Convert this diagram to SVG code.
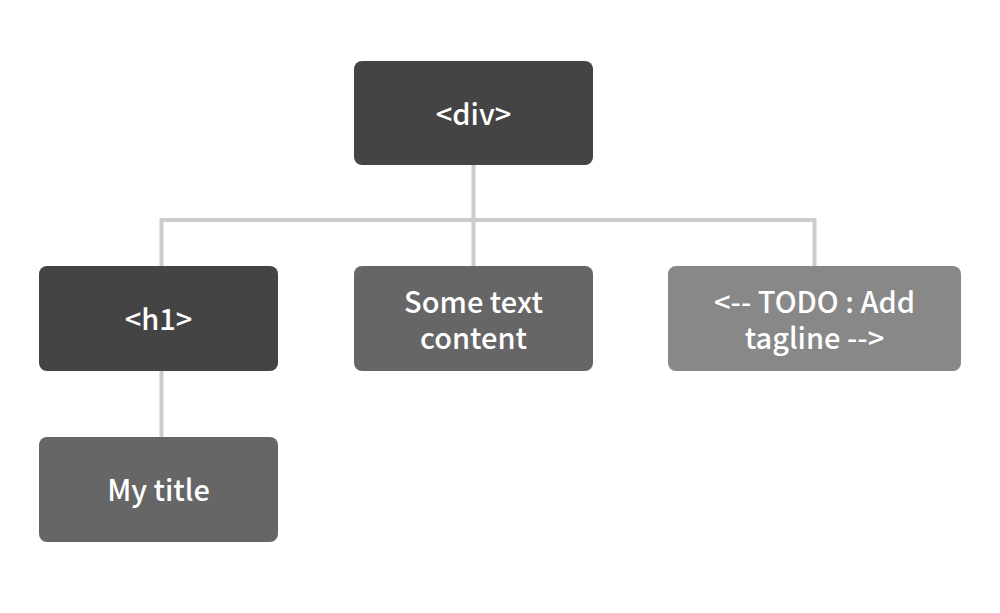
<svg xmlns="http://www.w3.org/2000/svg" width="1000" height="613" viewBox="0 0 1000 613">
<style>
.n rect{rx:8;ry:8}
.d{fill:#444444}
.m{fill:#666666}
.l{fill:#888888}
text{font-family:"Noto Sans CJK KR","Noto Sans",sans-serif;font-size:29px;font-weight:500;fill:#ffffff;text-anchor:middle;dominant-baseline:central}
.c{fill:none;stroke:#cccccc;stroke-width:4}
</style>
<rect width="1000" height="613" fill="#ffffff"/>
<g id="connectors" class="c">
<path d="M473.5 165V220M161.5 266V220H814.5V266M473.5 220V266"/>
<path d="M161.5 371V437"/>
</g>
<g id="div" class="n"><rect class="d" x="354" y="61" width="239" height="104"/><text x="473.5" y="112">&lt;div&gt;</text></g>
<g id="h1" class="n"><rect class="d" x="39" y="266" width="239" height="105"/><text x="158.5" y="317">&lt;h1&gt;</text></g>
<g id="text" class="n"><rect class="m" x="354" y="266" width="239" height="105"/><text x="473.5" y="300">Some text</text><text x="473.5" y="336">content</text></g>
<g id="todo" class="n"><rect class="l" x="668" y="266" width="293" height="105"/><text x="814.5" y="300">&lt;-- TODO : Add</text><text x="814.5" y="336">tagline --&gt;</text></g>
<g id="title" class="n"><rect class="m" x="39" y="437" width="239" height="105"/><text x="158.5" y="488">My title</text></g>
</svg>
